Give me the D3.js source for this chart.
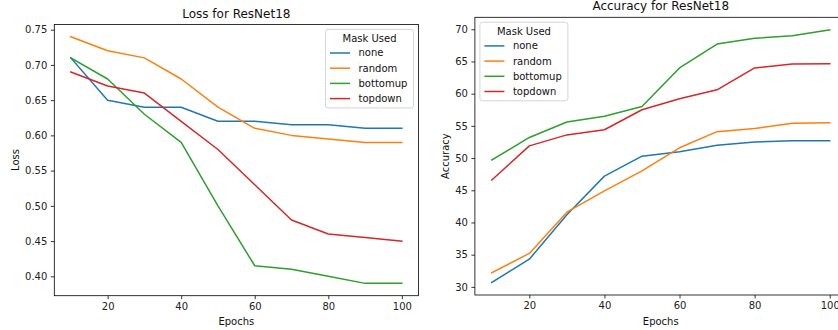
<!DOCTYPE html>
<html lang="en">
<head>
<meta charset="UTF-8">
<title>ResNet18 Loss and Accuracy</title>
<script src="https://d3js.org/d3.v7.min.js"></script>
<style>
  body { margin: 0; background: #fff; }
  svg { font-family: "DejaVu Sans", sans-serif; display: block; }
</style>
</head>
<body>
<svg id="chart" width="838" height="330"></svg>
<script>
const epochs = [10, 20, 30, 40, 50, 60, 70, 80, 90, 100];
const maskNames = ["none", "random", "bottomup", "topdown"];
const colors = ["#1f77b4", "#ff7f0e", "#2ca02c", "#d62728"];

// loss per mask
const lossNone     = [0.71, 0.65, 0.64, 0.64, 0.62, 0.62, 0.615, 0.615, 0.61, 0.61];
const lossRandom   = [0.74, 0.72, 0.71, 0.68, 0.64, 0.61, 0.60, 0.595, 0.59, 0.59];
const lossBottomup = [0.71, 0.68, 0.63, 0.59, 0.50, 0.415, 0.41, 0.40, 0.39, 0.39];
const lossTopdown  = [0.69, 0.67, 0.66, 0.62, 0.58, 0.53, 0.48, 0.46, 0.455, 0.45];

// accuracy per mask
const accNone     = [30.7, 34.3, 41.2, 47.2, 50.3, 51.0, 52.0, 52.5, 52.7, 52.7];
const accRandom   = [32.2, 35.2, 41.6, 44.9, 48.0, 51.6, 54.1, 54.6, 55.4, 55.5];
const accBottomup = [49.7, 53.2, 55.6, 56.5, 58.0, 64.0, 67.7, 68.6, 69.0, 69.9];
const accTopdown  = [46.6, 51.9, 53.6, 54.4, 57.5, 59.2, 60.6, 64.0, 64.6, 64.65];

const xTicks = [20, 40, 60, 80, 100];
const lossTicks = [0.40, 0.45, 0.50, 0.55, 0.60, 0.65, 0.70, 0.75];
const accTicks = [30, 35, 40, 45, 50, 55, 60, 65, 70];

const svg = d3.select("#chart");

function drawPanel(opts) {
  const { left, right, top, bottom, yDomain, yTicks, yFmt, series, title, titleY, yLabel, yLabelX, legendX, legendY } = opts;

  const x = d3.scaleLinear().domain([5.5, 104.5]).range([left, right]);
  const y = d3.scaleLinear().domain(yDomain).range([bottom, top]);

  const g = svg.append("g");

  // lines
  const line = d3.line().x((d, i) => x(epochs[i])).y(d => y(d));
  series.forEach((vals, i) => {
    g.append("path")
      .datum(vals)
      .attr("d", line)
      .attr("fill", "none")
      .attr("stroke", colors[i])
      .attr("stroke-width", 1.5)
      .attr("stroke-linejoin", "round")
      .attr("stroke-linecap", "square");
  });

  // axes
  const xAxis = g.append("g")
    .attr("transform", `translate(0,${bottom})`)
    .call(d3.axisBottom(x).tickValues(xTicks).tickSize(3.5).tickPadding(3.5).tickFormat(d3.format("d")));
  const yAxis = g.append("g")
    .attr("transform", `translate(${left},0)`)
    .call(d3.axisLeft(y).tickValues(yTicks).tickSize(3.5).tickPadding(3.5).tickFormat(yFmt));
  [xAxis, yAxis].forEach(a => {
    a.select(".domain").remove();
    a.selectAll("line").attr("stroke", "#000").attr("stroke-width", 0.8);
    a.selectAll("text").attr("fill", "#222").style("font-size", "10px").style("font-family", "DejaVu Sans");
  });

  // spines
  g.append("rect")
    .attr("x", left).attr("y", top)
    .attr("width", right - left).attr("height", bottom - top)
    .attr("fill", "none").attr("stroke", "#000").attr("stroke-width", 0.8);

  // title and labels
  g.append("text")
    .attr("x", (left + right) / 2).attr("y", titleY)
    .attr("text-anchor", "middle").attr("font-size", 12).attr("fill", "#111")
    .text(title);
  g.append("text")
    .attr("x", (left + right) / 2).attr("y", 325)
    .attr("text-anchor", "middle").attr("font-size", 10).attr("fill", "#111")
    .text("Epochs");
  g.append("text")
    .attr("transform", `translate(${yLabelX},${(top + bottom) / 2}) rotate(-90)`)
    .attr("text-anchor", "middle").attr("font-size", 10).attr("fill", "#111")
    .text(yLabel);

  // legend
  const lg = g.append("g").attr("transform", `translate(${legendX},${legendY})`);
  lg.append("rect")
    .attr("x", 0).attr("y", 0).attr("width", 88).attr("height", 78.5)
    .attr("rx", 2.5).attr("ry", 2.5)
    .attr("fill", "rgba(255,255,255,0.8)").attr("stroke", "#cccccc").attr("stroke-width", 0.8);
  lg.append("text")
    .attr("x", 44).attr("y", 8.8).attr("dy", "0.35em")
    .attr("text-anchor", "middle").attr("font-size", 10).attr("fill", "#111")
    .text("Mask Used");
  maskNames.forEach((name, i) => {
    const cy = 23.6 + i * 15.2;
    lg.append("line")
      .attr("x1", 4.5).attr("x2", 24.5).attr("y1", cy).attr("y2", cy)
      .attr("stroke", colors[i]).attr("stroke-width", 1.5);
    lg.append("text")
      .attr("x", 33).attr("y", cy).attr("dy", "0.35em")
      .attr("font-size", 10).attr("fill", "#111")
      .text(name);
  });
}

drawPanel({
  left: 54.3, right: 418.4, top: 24.4, bottom: 295.7,
  yDomain: [0.3725, 0.7575], yTicks: lossTicks, yFmt: d3.format(".2f"),
  series: [lossNone, lossRandom, lossBottomup, lossTopdown],
  title: "Loss for ResNet18", titleY: 18,
  yLabel: "Loss", yLabelX: 18.5,
  legendX: 325.5, legendY: 29.4
});

drawPanel({
  left: 474.9, right: 846.6, top: 17.3, bottom: 295,
  yDomain: [28.74, 71.86], yTicks: accTicks, yFmt: d3.format("d"),
  series: [accNone, accRandom, accBottomup, accTopdown],
  title: "Accuracy for ResNet18", titleY: 9.7,
  yLabel: "Accuracy", yLabelX: 448.5,
  legendX: 479.9, legendY: 22.3
});
</script>
</body>
</html>
